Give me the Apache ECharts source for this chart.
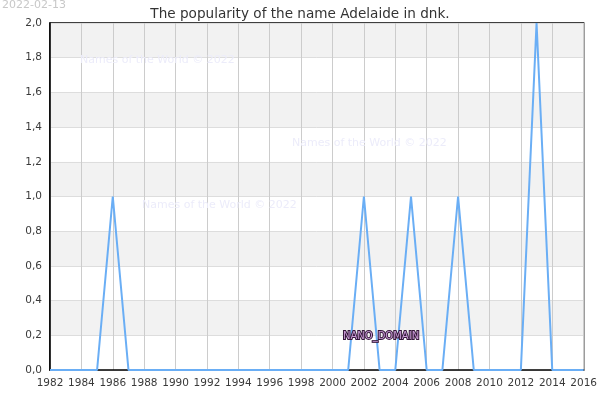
<!DOCTYPE html>
<html>
<head>
<meta charset="utf-8">
<script src="https://cdn.jsdelivr.net/npm/echarts@6/dist/echarts.min.js"></script>
<style>
  html, body { margin: 0; padding: 0; background: #fff; }
  #main { width: 600px; height: 400px; }
</style>
</head>
<body>
<div id="main"></div>
<script>
// jaren en waarden
var years = [1982, 1983, 1984, 1985, 1986, 1987, 1988, 1989, 1990, 1991, 1992, 1993,
  1994, 1995, 1996, 1997, 1998, 1999, 2000, 2001, 2002, 2003, 2004, 2005, 2006,
  2007, 2008, 2009, 2010, 2011, 2012, 2013, 2014, 2015, 2016];
var counts = [0, 0, 0, 0, 1, 0, 0, 0, 0, 0, 0, 0,
  0, 0, 0, 0, 0, 0, 0, 0, 1, 0, 0, 1, 0,
  0, 1, 0, 0, 0, 0, 2, 0, 0, 0];
var titleText = 'The popularity of the name Adelaide in dnk.';
var dateText = '2022-02-13';
var watermark = 'Names of the World © 2022';

var points = [];
for (var i = 0; i < years.length; i++) {
  points.push([years[i], counts[i]]);
}

var font = 'DejaVu Sans';
var wmStyle = function (x, y) {
  return { type: 'text', left: x, top: y, z: 1,
    style: { text: watermark, fill: '#ececfa', font: '11px "DejaVu Sans"' } };
};

var option = {
  animation: false,
  title: {
    text: titleText,
    left: 'center',
    top: 2,
    textStyle: { fontFamily: font, fontSize: 13.6, fontWeight: 'normal', color: '#333' }
  },
  grid: {
    left: 50, right: 14.5, top: 23, bottom: 30,
    show: true, borderColor: '#000', borderWidth: 1.5
  },
  xAxis: {
    type: 'value',
    min: 1982, max: 2016, interval: 2,
    axisLine: { lineStyle: { color: '#000', width: 1.5 } },
    axisTick: { show: false },
    axisLabel: {
      fontFamily: font, fontSize: 10.5, color: '#3a3a3a', margin: 8,
      formatter: function (v) { return String(v); }
    },
    splitLine: { show: true, lineStyle: { color: '#ccc', width: 1 } }
  },
  yAxis: {
    type: 'value',
    min: 0, max: 2, interval: 0.2,
    axisLine: { show: true, lineStyle: { color: '#000', width: 1.5 } },
    axisTick: { show: false },
    axisLabel: {
      fontFamily: font, fontSize: 10.5, color: '#3a3a3a', margin: 8,
      formatter: function (v) { return v.toFixed(1).replace('.', ','); }
    },
    splitLine: { show: true, lineStyle: { color: '#ddd', width: 1 } },
    splitArea: { show: true, areaStyle: { color: ['#ffffff', '#f2f2f2'] } }
  },
  graphic: [
    { type: 'text', left: 2, top: 0,
      style: { text: dateText, fill: '#c8c8c8', font: '11px "DejaVu Sans"' } },
    wmStyle(80, 55),
    wmStyle(292, 138),
    wmStyle(142, 200),
    { type: 'text', left: 342, top: 330, z: 100,
      style: { text: 'NANO_DOMAIN', fill: '#c79ad4', stroke: '#35183a', lineWidth: 2,
        font: '10px "DejaVu Sans"' } }
  ],
  series: [{
    type: 'line',
    data: points,
    symbol: 'none',
    clip: false,
    lineStyle: { color: '#6aaef5', width: 2 },
    z: 5
  }]
};

var chart = echarts.init(document.getElementById('main'));
chart.setOption(option);
</script>
</body>
</html>
